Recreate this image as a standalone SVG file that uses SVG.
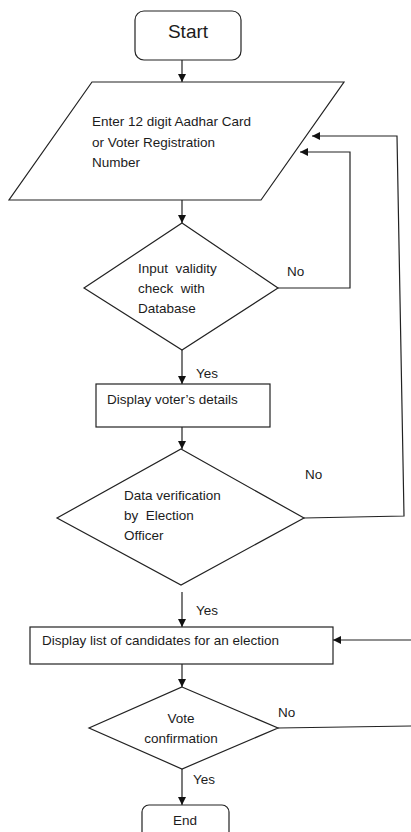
<svg xmlns="http://www.w3.org/2000/svg" width="411" height="832" viewBox="0 0 411 832">
<style>
.s{fill:#fff;stroke:#222;stroke-width:1.2}
.c{fill:none;stroke:#222;stroke-width:1.2}
.t{font-family:"Liberation Sans",Arial,sans-serif;font-size:13.5px;fill:#1c1c1c}
.b{font-size:19px}
</style>
<defs>
<marker id="ah" viewBox="0 0 10 10" refX="10" refY="5" markerWidth="8" markerHeight="8" markerUnits="userSpaceOnUse" orient="auto">
<path d="M0,0 L10,5 L0,10 z" fill="#111"/>
</marker>
</defs>
<rect width="411" height="832" fill="#fff"/>
<g id="connectors">
<line class="c" x1="182" y1="60" x2="182" y2="82" marker-end="url(#ah)"/>
<line class="c" x1="182" y1="200" x2="182" y2="223" marker-end="url(#ah)"/>
<line class="c" x1="182" y1="350" x2="182" y2="384" marker-end="url(#ah)"/>
<line class="c" x1="182" y1="427" x2="182" y2="449" marker-end="url(#ah)"/>
<line class="c" x1="182" y1="592" x2="182" y2="627" marker-end="url(#ah)"/>
<line class="c" x1="182" y1="664" x2="182" y2="687" marker-end="url(#ah)"/>
<line class="c" x1="182" y1="769" x2="182" y2="805" marker-end="url(#ah)"/>
<polyline class="c" points="278,288 350,288 350,152 300,152" marker-end="url(#ah)"/>
<polyline class="c" points="304,518 404,516 397,136 312,136" marker-end="url(#ah)"/>
<line class="c" x1="411" y1="640" x2="333" y2="640" marker-end="url(#ah)"/>
<line class="c" x1="278" y1="728" x2="411" y2="726"/>
<text class="t" x="287" y="276">No</text>
<text class="t" x="196" y="378">Yes</text>
<text class="t" x="305" y="479">No</text>
<text class="t" x="196" y="615">Yes</text>
<text class="t" x="278" y="717">No</text>
<text class="t" x="193" y="784">Yes</text>
</g>
<g id="start">
<rect class="s" x="135" y="11" width="106" height="49" rx="9"/>
<text class="t b" x="188" y="38" text-anchor="middle">Start</text>
</g>
<g id="input">
<polygon class="s" points="92,82 344,82 261,200 9,200"/>
<text class="t" x="92" y="126">Enter 12 digit Aadhar Card</text>
<text class="t" x="92" y="147">or Voter Registration</text>
<text class="t" x="92" y="167">Number</text>
</g>
<g id="validity">
<polygon class="s" points="182,223 278,288 182,350 84,288"/>
<text class="t" x="138" y="273" xml:space="preserve">Input  validity</text>
<text class="t" x="138" y="293" xml:space="preserve">check  with</text>
<text class="t" x="138" y="313">Database</text>
</g>
<g id="details">
<rect class="s" x="96" y="384" width="174" height="43"/>
<text class="t" x="107" y="404">Display voter’s details</text>
</g>
<g id="verify">
<polygon class="s" points="181,449 304,518 181,585 57,518"/>
<text class="t" x="124" y="500">Data verification</text>
<text class="t" x="124" y="520" xml:space="preserve">by  Election</text>
<text class="t" x="124" y="540">Officer</text>
</g>
<g id="candidates">
<rect class="s" x="30" y="627" width="303" height="37"/>
<text class="t" x="42" y="645">Display list of candidates for an election</text>
</g>
<g id="confirm">
<polygon class="s" points="182,687 278,728 182,769 89,728"/>
<text class="t" x="181" y="723" text-anchor="middle">Vote</text>
<text class="t" x="181" y="743" text-anchor="middle">confirmation</text>
</g>
<g id="end">
<rect class="s" x="142" y="805" width="87" height="40" rx="7"/>
<text class="t" x="185" y="825" text-anchor="middle">End</text>
</g>
</svg>
